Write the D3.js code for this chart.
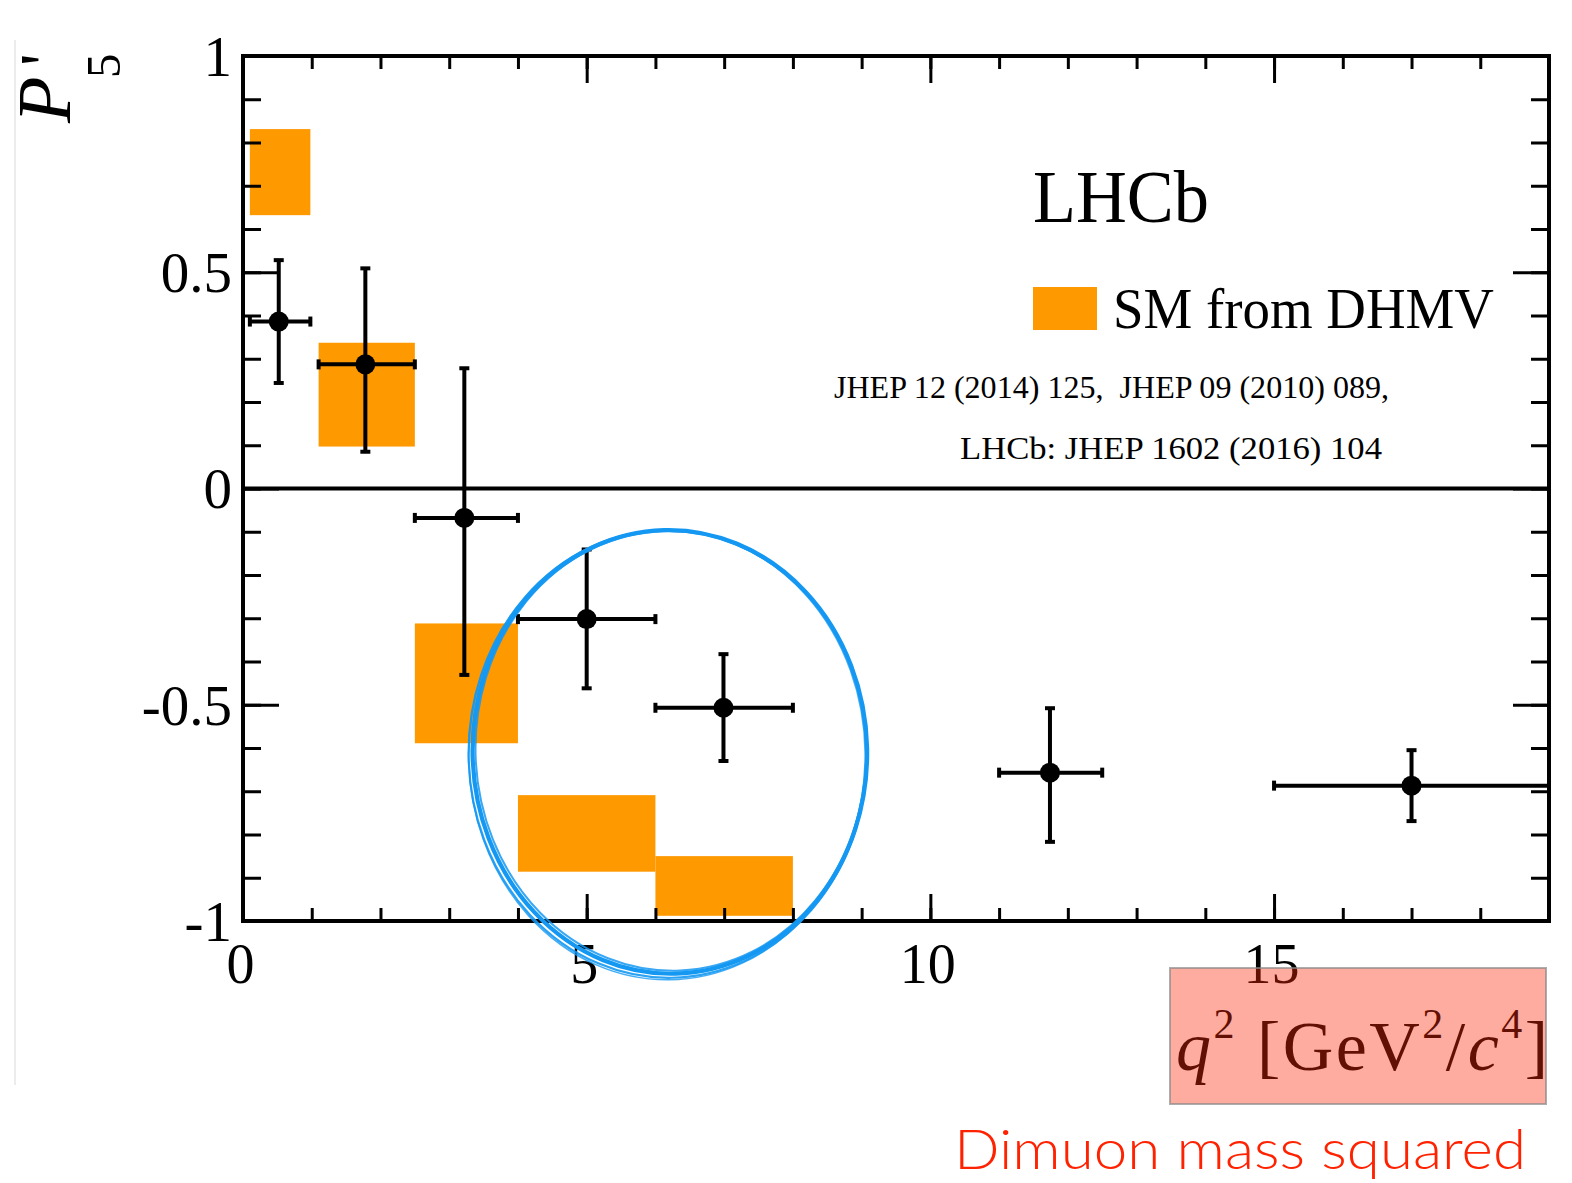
<!DOCTYPE html>
<html>
<head>
<meta charset="utf-8">
<script src="https://cdn.jsdelivr.net/npm/d3@7"></script>
<style>
  html, body { margin: 0; padding: 0; background: #fff; }
  svg { display: block; }
</style>
</head>
<body>
<svg id="chart" width="1572" height="1183"></svg>
<script>
// ---------------- data ----------------
// LHCb measurement of P5' in q^2 bins
const binLo   = [0.1, 1.1, 2.5, 4.0, 6.0, 11.0, 15.0];
const binHi   = [0.98, 2.5, 4.0, 6.0, 8.0, 12.5, 19.0];
const pointX  = [0.52, 1.78, 3.22, 5.0, 6.99, 11.74, 17.0];
const pointY  = [0.386, 0.287, -0.068, -0.302, -0.507, -0.657, -0.687];
const errUp   = [0.528, 0.509, 0.278, -0.141, -0.383, -0.508, -0.605];
const errDown = [0.244, 0.085, -0.431, -0.462, -0.630, -0.817, -0.769];

// SM prediction (DHMV) boxes
const smLo    = [0.1, 1.1, 2.5, 4.0, 6.0];
const smHi    = [0.98, 2.5, 4.0, 6.0, 8.0];
const smMin   = [0.632, 0.097, -0.589, -0.886, -0.988];
const smMax   = [0.831, 0.337, -0.312, -0.709, -0.850];

// axis ticks
const xMajor = [0, 5, 10, 15];
const xMinor = d3.range(0, 20, 1);
const yMajor = [-1, -0.5, 0, 0.5, 1];
const yMinor = d3.range(-10, 11).map(d => d / 10);
const xLabels = ["0", "5", "10", "15"];
const yLabels = ["-1", "-0.5", "0", "0.5", "1"];

// annotation ellipse (data coords)
const ellipseCenter = [6.21, -0.609];
const ellipseRadius = [2.87, 0.513];

// ---------------- drawing ----------------
const svg = d3.select("#chart");
const x = d3.scaleLinear().domain([0, 19]).range([243, 1549]);
const y = d3.scaleLinear().domain([-1, 1]).range([921, 56]);
const serif = "'Liberation Serif', 'Times New Roman', serif";

// faint screenshot border on the left
svg.append("line").attr("x1", 15).attr("x2", 15).attr("y1", 40).attr("y2", 1085)
  .attr("stroke", "#ececec").attr("stroke-width", 2);

// SM boxes
svg.append("g").selectAll("rect").data(smLo).join("rect")
  .attr("x", (d, i) => x(smLo[i]))
  .attr("width", (d, i) => x(smHi[i]) - x(smLo[i]))
  .attr("y", (d, i) => y(smMax[i]))
  .attr("height", (d, i) => y(smMin[i]) - y(smMax[i]))
  .attr("fill", "#ff9900");

// ticks
function styleTicks(g) {
  g.select(".domain").remove();
  g.selectAll(".tick line").attr("stroke", "#000").attr("stroke-width", 3);
}
svg.append("g").attr("transform", `translate(0,${y(-1)})`)
  .call(d3.axisTop(x).tickValues(xMinor).tickSize(13).tickFormat("")).call(styleTicks);
svg.append("g").attr("transform", `translate(0,${y(-1)})`)
  .call(d3.axisTop(x).tickValues(xMajor).tickSize(27).tickFormat("")).call(styleTicks);
svg.append("g").attr("transform", `translate(0,${y(1)})`)
  .call(d3.axisBottom(x).tickValues(xMinor).tickSize(13).tickFormat("")).call(styleTicks);
svg.append("g").attr("transform", `translate(0,${y(1)})`)
  .call(d3.axisBottom(x).tickValues(xMajor).tickSize(27).tickFormat("")).call(styleTicks);
svg.append("g").attr("transform", `translate(${x(0)},0)`)
  .call(d3.axisRight(y).tickValues(yMinor).tickSize(18).tickFormat("")).call(styleTicks);
svg.append("g").attr("transform", `translate(${x(0)},0)`)
  .call(d3.axisRight(y).tickValues(yMajor).tickSize(36).tickFormat("")).call(styleTicks);
svg.append("g").attr("transform", `translate(${x(19)},0)`)
  .call(d3.axisLeft(y).tickValues(yMinor).tickSize(18).tickFormat("")).call(styleTicks);
svg.append("g").attr("transform", `translate(${x(19)},0)`)
  .call(d3.axisLeft(y).tickValues(yMajor).tickSize(36).tickFormat("")).call(styleTicks);

// tick labels
const xl = svg.append("g").attr("transform", `translate(0,${y(-1)})`)
  .call(d3.axisBottom(x).tickValues(xMajor).tickSize(0).tickFormat((d, i) => xLabels[i]));
xl.select(".domain").remove();
xl.selectAll("text").attr("y", 62).attr("dy", 0).attr("dx", -3)
  .attr("font-family", serif).attr("font-size", 56).attr("fill", "#000");

const yl = svg.append("g").attr("transform", `translate(${x(0)},0)`)
  .call(d3.axisLeft(y).tickValues(yMajor).tickSize(0).tickPadding(11).tickFormat((d, i) => yLabels[i]));
yl.select(".domain").remove();
yl.selectAll("text").attr("dy", "0.34em")
  .attr("font-family", serif).attr("font-size", 57).attr("fill", "#000");

// frame and zero line
svg.append("rect").attr("x", x(0)).attr("y", y(1))
  .attr("width", x(19) - x(0)).attr("height", y(-1) - y(1))
  .attr("fill", "none").attr("stroke", "#000").attr("stroke-width", 4);
svg.append("line").attr("x1", x(0)).attr("x2", x(19)).attr("y1", y(0)).attr("y2", y(0))
  .attr("stroke", "#000").attr("stroke-width", 4);

// data points with error bars
const pts = svg.append("g");
const cap = 5;
pointX.forEach((px, i) => {
  const g = pts.append("g").attr("stroke", "#000").attr("stroke-width", 4);
  g.append("line").attr("x1", x(binLo[i])).attr("x2", x(binHi[i])).attr("y1", y(pointY[i])).attr("y2", y(pointY[i]));
  g.append("line").attr("x1", x(px)).attr("x2", x(px)).attr("y1", y(errUp[i])).attr("y2", y(errDown[i]));
  // caps
  g.append("line").attr("x1", x(binLo[i])).attr("x2", x(binLo[i])).attr("y1", y(pointY[i]) - cap).attr("y2", y(pointY[i]) + cap);
  if (binHi[i] < 19) g.append("line").attr("x1", x(binHi[i])).attr("x2", x(binHi[i])).attr("y1", y(pointY[i]) - cap).attr("y2", y(pointY[i]) + cap);
  g.append("line").attr("x1", x(px) - cap).attr("x2", x(px) + cap).attr("y1", y(errUp[i])).attr("y2", y(errUp[i]));
  g.append("line").attr("x1", x(px) - cap).attr("x2", x(px) + cap).attr("y1", y(errDown[i])).attr("y2", y(errDown[i]));
  pts.append("circle").attr("cx", x(px)).attr("cy", y(pointY[i])).attr("r", 10).attr("fill", "#000");
});

// texts
svg.append("text").attr("x", 1033).attr("y", 222).attr("font-family", serif)
  .attr("font-size", 74).attr("textLength", 176).attr("lengthAdjust", "spacingAndGlyphs").text("LHCb");

svg.append("rect").attr("x", 1033).attr("y", 287).attr("width", 64).attr("height", 43).attr("fill", "#ff9900");
svg.append("text").attr("x", 1113).attr("y", 328).attr("font-family", serif)
  .attr("font-size", 56).attr("textLength", 381).attr("lengthAdjust", "spacingAndGlyphs").text("SM from DHMV");

svg.append("text").attr("x", 834).attr("y", 398).attr("font-family", serif)
  .attr("font-size", 32).attr("textLength", 555).attr("lengthAdjust", "spacingAndGlyphs")
  .attr("xml:space", "preserve").text("JHEP 12 (2014) 125,  JHEP 09 (2010) 089,");
svg.append("text").attr("x", 960).attr("y", 459).attr("font-family", serif)
  .attr("font-size", 32).attr("textLength", 422).attr("lengthAdjust", "spacingAndGlyphs")
  .text("LHCb: JHEP 1602 (2016) 104");

// y-axis title P'_5
const yt = svg.append("text").attr("transform", "translate(70,123) rotate(-90)")
  .attr("font-family", serif).attr("fill", "#000");
yt.append("tspan").attr("x", 0).attr("y", 0).attr("font-size", 76)
  .attr("font-style", "italic").text("P");
yt.append("tspan").attr("x", 57).attr("y", -2).attr("font-size", 70).text("'");
yt.append("tspan").attr("x", 45).attr("y", 50).attr("font-size", 49).text("5");

// x-axis title
const xt = svg.append("text").attr("x", 1548).attr("y", 1070).attr("text-anchor", "end")
  .attr("font-family", serif).attr("font-size", 70).attr("fill", "#000")
  .attr("textLength", 372).attr("lengthAdjust", "spacing");
xt.append("tspan").attr("font-style", "italic").text("q");
xt.append("tspan").attr("font-size", 42).attr("dy", -32).text("2");
xt.append("tspan").attr("dy", 32).text("\u00a0[GeV");
xt.append("tspan").attr("font-size", 42).attr("dy", -32).text("2");
xt.append("tspan").attr("dy", 32).text("/");
xt.append("tspan").attr("font-style", "italic").text("c");
xt.append("tspan").attr("font-size", 42).attr("dy", -32).text("4");
xt.append("tspan").attr("dy", 32).text("]");

svg.append("rect").attr("x", 1170).attr("y", 968).attr("width", 376).attr("height", 136)
  .attr("fill", "rgb(255,40,10)").attr("fill-opacity", 0.39)
  .attr("stroke", "#8a8a8a").attr("stroke-opacity", 0.7).attr("stroke-width", 2);

svg.append("text").attr("x", 954).attr("y", 1169).attr("font-family", "Lato, 'Open Sans', sans-serif")
  .attr("font-size", 56).attr("font-weight", 300).attr("fill", "#ff2200")
  .attr("textLength", 572).attr("lengthAdjust", "spacingAndGlyphs").text("Dimuon mass squared");

// hand-drawn style ellipse annotation
const cx = x(ellipseCenter[0]), cy = y(ellipseCenter[1]);
const rx = x(ellipseCenter[0] + ellipseRadius[0]) - cx;
const ry = cy - y(ellipseCenter[1] + ellipseRadius[1]);
const strokes = [
  { dx: 0, dy: 0, drx: 0, dry: 0, rot: -1.5, w: 4.2, o: 1 },
  { dx: -2, dy: 2, drx: 2, dry: 2, rot: -1, w: 2.2, o: 0.9 },
  { dx: 1, dy: -1, drx: -2, dry: -2, rot: -2.5, w: 2, o: 0.85 },
  { dx: -3, dy: 3, drx: 1, dry: 3, rot: -0.5, w: 1.6, o: 0.8 }
];
const eg = svg.append("g");
strokes.forEach(s => {
  eg.append("ellipse")
    .attr("cx", cx + s.dx).attr("cy", cy + s.dy)
    .attr("rx", rx + s.drx).attr("ry", ry + s.dry)
    .attr("transform", `rotate(${s.rot},${cx},${cy})`)
    .attr("fill", "none").attr("stroke", "#1598f2")
    .attr("stroke-opacity", s.o).attr("stroke-width", s.w);
});
</script>
</body>
</html>
